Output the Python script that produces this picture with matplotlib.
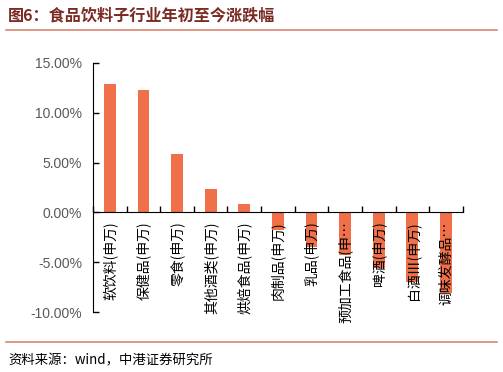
import matplotlib
matplotlib.use("Agg")
import matplotlib.pyplot as plt
from matplotlib.ticker import FuncFormatter, FixedLocator
import numpy as np

plt.rcParams['font.family'] = ['Noto Sans CJK SC', 'DejaVu Sans']

# 子行业及涨跌幅（%）
categories = ['软饮料(申万)', '保健品(申万)', '零食(申万)', '其他酒类(申万)', '烘焙食品(申万)',
              '肉制品(申万)', '乳品(申万)', '预加工食品(申…', '啤酒(申万)', '白酒Ⅲ(申万)', '调味发酵品…']
changes = [12.9, 12.3, 5.9, 2.3, 0.8, -1.8, -3.5, -4.3, -5.6, -7.0, -8.1]
y_ticks = [-10, -5, 0, 5, 10, 15]

bar_color = '#F07049'
title_color = '#7A2A22'
line_color = '#D98572'

fig = plt.figure(figsize=(5.03, 3.72), dpi=100)

# 标题与分隔线
fig.text(0.016, 0.958, '图6：食品饮料子行业年初至今涨跌幅', fontsize=11.6, fontweight='bold',
         color=title_color, va='center', ha='left')
fig.add_artist(plt.Line2D([0.012, 0.988], [0.920, 0.920], color=line_color, lw=1.2))
fig.add_artist(plt.Line2D([0.012, 0.988], [0.080, 0.080], color=line_color, lw=1.2))
fig.text(0.016, 0.032, '资料来源：wind，中港证券研究所', fontsize=9.6, style='italic',
         color='black', va='center', ha='left')

ax = fig.add_axes([0.185, 0.161, 0.735, 0.670])
x = np.arange(len(categories))
ax.bar(x, changes, width=0.35, color=bar_color, zorder=1)

ax.set_xlim(-0.5, len(categories) - 0.5)
ax.set_ylim(-10, 15)
ax.set_yticks(y_ticks)
ax.yaxis.set_major_formatter(FuncFormatter(lambda v, p: f'{v:.2f}%'))
ax.tick_params(axis='y', direction='in', length=4, width=1, colors='black',
               labelcolor='#595959', labelsize=10, pad=8)
for lab in ax.get_yticklabels():
    lab.set_family(['Liberation Sans', 'DejaVu Sans'])

ax.spines['top'].set_visible(False)
ax.spines['right'].set_visible(False)
ax.spines['left'].set_color('black')
ax.spines['bottom'].set_position(('data', 0))
ax.spines['bottom'].set_color('black')
ax.set_xticks([])
ax.xaxis.set_minor_locator(FixedLocator(np.arange(len(categories) + 1) - 0.5))
ax.tick_params(axis='x', which='minor', direction='in', length=4, width=1, colors='black')

for xi, name in zip(x, categories):
    ax.text(xi, -0.9, name, rotation=90, ha='center', va='top', fontsize=10,
            color='black', zorder=3)

fig.savefig('out.png', dpi=100)
